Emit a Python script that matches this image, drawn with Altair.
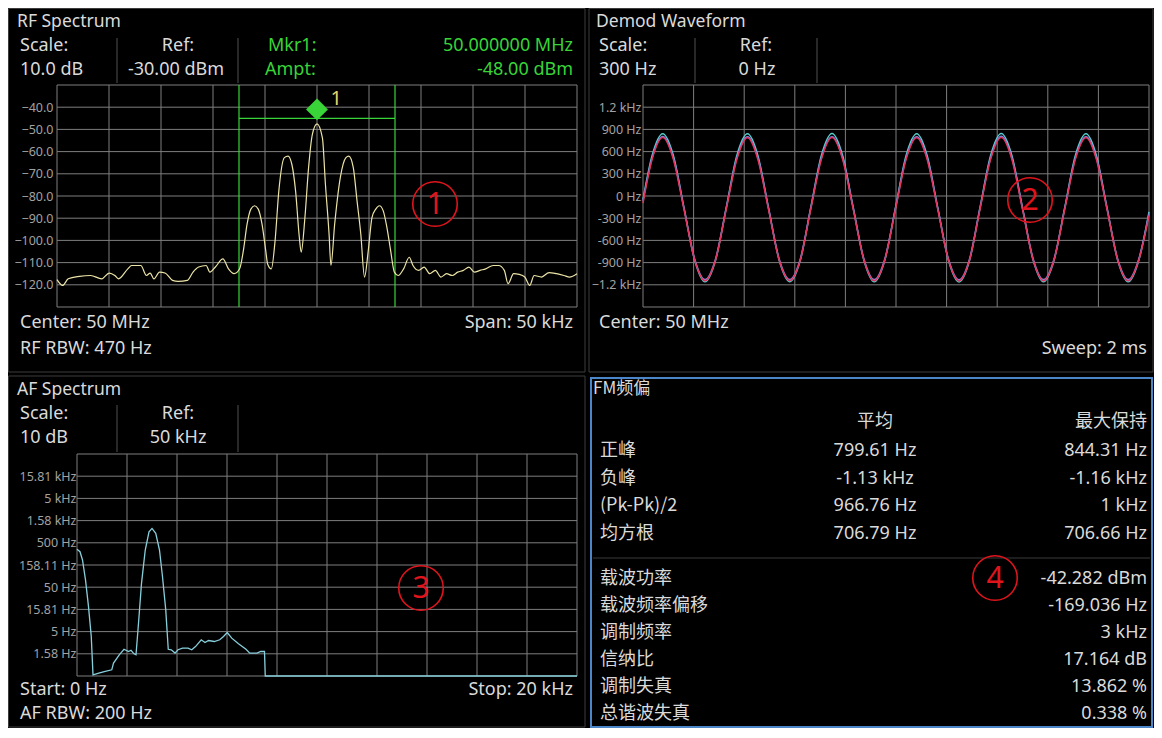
import altair as alt
import pandas as pd

# ---------------- data ----------------
RF_FREQ_KHZ = [-25.0, -24.46, -23.92, -22.85, -21.77, -20.70, -19.98, -19.44, -19.09, -18.19, -17.83, -16.94,
               -16.40, -16.04, -15.68, -15.14, -14.61, -13.89, -13.35, -12.46, -11.92, -11.38, -10.66, -10.30,
               -9.77, -9.05, -8.51, -7.97, -7.44, -7.08, -6.72, -6.36, -6.00, -5.65, -5.29, -4.93, -4.75, -4.39,
               -4.03, -3.67, -3.14, -2.78, -2.42, -2.06, -1.70, -1.52, -1.16, -0.81, -0.45, 0.0, 0.52, 0.81,
               1.16, 1.34, 1.70, 2.24, 2.78, 3.06, 3.49, 3.85, 4.21, 4.57, 4.93, 5.29, 5.65, 6.00, 6.36, 6.72,
               7.08, 7.44, 7.80, 8.33, 8.87, 9.23, 9.77, 10.30, 10.84, 11.38, 11.92, 12.46, 13.00, 13.53, 14.07,
               14.61, 15.14, 15.68, 16.22, 16.94, 17.47, 18.01, 18.37, 18.91, 19.44, 19.98, 20.45, 20.88, 21.59,
               22.31, 23.03, 23.75, 24.28, 25.0]
RF_LEVEL_DBM = [-117.7, -120.3, -117.3, -116.2, -115.8, -117.3, -114.7, -115.8, -117.3, -112.8, -111.3, -111.3,
                -115.8, -114.7, -117.3, -114.3, -114.7, -118.0, -118.5, -118.0, -114.3, -112.0, -111.3, -114.3,
                -112.0, -108.3, -112.8, -115.0, -112.8, -104.6, -92.6, -85.9, -84.4, -85.9, -92.6, -104.6, -110.6,
                -112.8, -100.1, -77.7, -62.7, -62.0, -65.7, -77.7, -98.6, -105.3, -89.6, -67.2, -52.3, -47.5, -53.8,
                -74.7, -97.1, -111.3, -92.6, -71.7, -62.7, -62.0, -67.2, -82.2, -97.1, -116.5, -104.6, -89.6, -85.9,
                -84.4, -86.6, -94.1, -104.6, -114.3, -115.8, -112.8, -107.6, -111.3, -113.5, -112.0, -115.0, -113.5,
                -116.5, -115.0, -115.8, -114.3, -113.5, -112.0, -114.3, -113.5, -112.8, -111.3, -111.3, -113.5,
                -119.5, -115.0, -115.3, -116.5, -120.3, -115.8, -116.5, -114.5, -115.0, -115.8, -116.5, -115.0]
RF_X_TICKS = [-25, -20, -15, -10, -5, 0, 5, 10, 15, 20, 25]
RF_Y_TICKS = [-130, -120, -110, -100, -90, -80, -70, -60, -50, -40, -30]
RF_Y_LABELS = [-120, -110, -100, -90, -80, -70, -60, -50, -40]
MKR_BAND_KHZ = [-7.5, 7.5]
MKR_LINE_DBM = -45.0
MKR_FREQ_KHZ = [0.0]
MKR_LEVEL_DBM = [-41.0]
MKR_LABEL_POS = [1.3, -36.5]

DEMOD_T_MS = [0.0, 0.036, 0.078, 0.120, 0.162, 0.204, 0.245, 0.287, 0.329, 0.371, 0.413, 0.454, 0.496,
              0.538, 0.580, 0.622, 0.663, 0.705, 0.747, 0.789, 0.831, 0.873, 0.914, 0.956, 0.998, 1.040,
              1.082, 1.123, 1.165, 1.207, 1.249, 1.291, 1.332, 1.374, 1.416, 1.458, 1.500, 1.542, 1.583,
              1.625, 1.667, 1.709, 1.751, 1.792, 1.834, 1.876, 1.918, 1.960, 2.0]
DEMOD_MAX_HZ = [-50, 547, 842, 547, -158, -866, -1160, -866, -158, 547, 840, 547, -158, -866, -1158, -866,
                -158, 547, 844, 547, -158, -866, -1160, -866, -158, 547, 840, 547, -158, -866, -1162, -866,
                -158, 547, 844, 547, -158, -866, -1160, -866, -158, 547, 840, 547, -158, -866, -1160, -866, -215]
DEMOD_AVG_HZ = [-70, 517, 805, 517, -165, -847, -1130, -847, -165, 517, 800, 517, -165, -847, -1128, -847,
                -165, 517, 802, 517, -165, -847, -1130, -847, -165, 517, 800, 517, -165, -847, -1132, -847,
                -165, 517, 806, 517, -165, -847, -1130, -847, -165, 517, 800, 517, -165, -847, -1130, -847, -240]
DEMOD_MIN_HZ = [-95, 495, 790, 495, -180, -862, -1146, -862, -180, 495, 788, 495, -180, -862, -1144, -862,
                -180, 495, 790, 495, -180, -862, -1146, -862, -180, 495, 786, 495, -180, -862, -1148, -862,
                -180, 495, 790, 495, -180, -862, -1146, -862, -180, 495, 788, 495, -180, -862, -1146, -862, -265]
DEMOD_X_TICKS = [0.0, 0.2, 0.4, 0.6, 0.8, 1.0, 1.2, 1.4, 1.6, 1.8, 2.0]
DEMOD_Y_TICKS = [-1500, -1200, -900, -600, -300, 0, 300, 600, 900, 1200, 1500]
DEMOD_Y_LABELS = [-1200, -900, -600, -300, 0, 300, 600, 900, 1200]

AF_FREQ_KHZ = [0.0, 0.12, 0.22, 0.34, 0.46, 0.57, 0.64, 0.87, 1.09, 1.39, 1.46, 1.69, 1.88, 2.06, 2.16, 2.28,
               2.36, 2.46, 2.58, 2.73, 2.88, 3.00, 3.15, 3.30, 3.42, 3.55, 3.65, 3.77, 3.92, 4.04, 4.22, 4.44,
               4.59, 4.74, 4.97, 5.12, 5.26, 5.49, 5.71, 5.86, 6.01, 6.19, 6.46, 6.76, 6.91, 7.20, 7.35, 7.50,
               7.53, 20.0]
AF_LEVEL_HZ = [356, 315, 205, 73, 18.3, 3.9, 0.53, 0.58, 0.63, 0.69, 0.98, 1.5, 2.0, 1.78, 1.9, 1.58,
               1.5, 7.7, 61, 344, 887, 1055, 815, 344, 86, 15.4, 2.0, 1.95, 1.64, 1.95, 2.12, 2.12,
               1.95, 2.3, 3.27, 2.84, 3.15, 2.99, 3.27, 3.87, 4.76, 3.56, 2.65, 2.0, 1.64, 1.64, 1.78, 1.78,
               0.5, 0.5]
AF_X_TICKS = [0, 2, 4, 6, 8, 10, 12, 14, 16, 18, 20]
AF_Y_TICKS = [0.5, 1.5811, 5, 15.811, 50, 158.11, 500, 1581.1, 5000, 15811, 50000]
AF_Y_LABELS = [1.5811, 5, 15.811, 50, 158.11, 500, 1581.1, 5000, 15811]

FM_ROW_LABELS = ["正峰", "负峰", "(Pk-Pk)/2", "均方根"]
FM_AVG = ["799.61 Hz", "-1.13 kHz", "966.76 Hz", "706.79 Hz"]
FM_MAXHOLD = ["844.31 Hz", "-1.16 kHz", "1 kHz", "706.66 Hz"]
FM_RESULT_LABELS = ["载波功率", "载波频率偏移", "调制频率", "信纳比", "调制失真", "总谐波失真"]
FM_RESULT_VALUES = ["-42.282 dBm", "-169.036 Hz", "3 kHz", "17.164 dB", "13.862 %", "0.338 %"]

# ---------------- style ----------------
W, H = 1146, 720
FONT = "Noto Sans"
CJK = "Noto Sans CJK SC"
BORDER = "#3c3c3c"
GRID = "#7e7e7e"
TXT = "#dadada"
AXT = "#a2a2a2"
GREEN = "#38d438"
YELLOW = "#ece4a6"
AF_COL = "#88cfdc"
RED = "#e0141c"
SEP = "#505050"
FS = 18        # header / footer / table text
TS = 17.5      # panel titles
AS = 12.5      # axis labels
ONE = pd.DataFrame({"k": [0]})


def P(v):
    return v - 8


def label(text, x, y, size=FS, color=TXT, align="left", font=FONT):
    return alt.Chart(pd.DataFrame({"t": [text]})).mark_text(
        align=align, baseline="middle", fontSize=size, font=font, color=color
    ).encode(text="t:N", x=alt.value(P(x)), y=alt.value(P(y)))


def box(x0, y0, x1, y1, color, width=1):
    return alt.Chart(ONE).mark_rect(fillOpacity=0, stroke=color, strokeWidth=width).encode(
        x=alt.value(P(x0)), x2=alt.value(P(x1)), y=alt.value(P(y0)), y2=alt.value(P(y1)))


def vline(x, y0, y1, color=SEP):
    return alt.Chart(ONE).mark_rule(color=color, strokeWidth=1).encode(
        x=alt.value(P(x)), y=alt.value(P(y0)), y2=alt.value(P(y1)))


def hline(x0, x1, y, color=SEP):
    return alt.Chart(ONE).mark_rule(color=color, strokeWidth=1).encode(
        x=alt.value(P(x0)), x2=alt.value(P(x1)), y=alt.value(P(y)))


def lin(domain, r0, r1, typ="linear"):
    return alt.Scale(type=typ, domain=domain, range=[P(r0), P(r1)], nice=False, zero=False)


def grid(xt, yt, xs, ys):
    rows = [dict(x=v, x2=v, y=yt[0], y2=yt[-1]) for v in xt] + \
           [dict(x=xt[0], x2=xt[-1], y=v, y2=v) for v in yt]
    return alt.Chart(pd.DataFrame(rows)).mark_rule(color=GRID, strokeWidth=1).encode(
        x=alt.X("x:Q", scale=xs, axis=None), x2="x2:Q",
        y=alt.Y("y:Q", scale=ys, axis=None), y2="y2:Q")


def yaxis(left_px, values, pad, fmt=None, expr=None):
    kw = dict(orient="left", offset=-P(left_px), values=values, title=None, domain=False, ticks=False,
              grid=False, labelColor=AXT, labelFont=FONT, labelFontSize=AS, labelPadding=pad,
              labelOverlap=False)
    if fmt:
        kw["format"] = fmt
    if expr:
        kw["labelExpr"] = expr
    return alt.Axis(**kw)


def ring(x, y, digit):
    c = alt.Chart(ONE).mark_point(shape="circle", size=1980, filled=False, stroke=RED, strokeWidth=1.6,
                                  opacity=1).encode(x=alt.value(P(x)), y=alt.value(P(y)))
    t = label(digit, x, y + 1, size=30, color=RED, align="center")
    return [c, t]


layers = []

# ---------------- panel frames ----------------
layers += [box(8.5, 8.5, 585, 372, BORDER), box(589, 8.5, 1153, 372, BORDER),
           box(8.5, 376, 585, 727, BORDER), box(591, 378, 1152, 727, "#4a86c8", 2)]

# ---------------- RF spectrum ----------------
rf_xs = lin([-25, 25], 57, 577)
rf_ys = lin([-130, -30], 307, 85)
layers.append(grid(RF_X_TICKS, RF_Y_TICKS, rf_xs, rf_ys))
rf_df = pd.DataFrame({"f": RF_FREQ_KHZ, "l": RF_LEVEL_DBM})
band_df = pd.DataFrame({"x": MKR_BAND_KHZ, "y": [RF_Y_TICKS[0]] * 2, "y2": [RF_Y_TICKS[-1]] * 2})
layers.append(alt.Chart(band_df).mark_rule(color=GREEN, strokeWidth=1.2).encode(
    x=alt.X("x:Q", scale=rf_xs, axis=None), y=alt.Y("y:Q", scale=rf_ys, axis=None), y2="y2:Q"))
layers.append(alt.Chart(pd.DataFrame({"x": [MKR_BAND_KHZ[0]], "x2": [MKR_BAND_KHZ[1]], "y": [MKR_LINE_DBM]}))
              .mark_rule(color=GREEN, strokeWidth=1.2).encode(
    x=alt.X("x:Q", scale=rf_xs, axis=None), x2="x2:Q", y=alt.Y("y:Q", scale=rf_ys, axis=None)))
layers.append(alt.Chart(rf_df).mark_line(color=YELLOW, strokeWidth=1.2, interpolate="monotone").encode(
    x=alt.X("f:Q", scale=rf_xs, axis=None),
    y=alt.Y("l:Q", scale=rf_ys, axis=yaxis(57, RF_Y_LABELS, 4, fmt=".1f"))))
layers.append(alt.Chart(pd.DataFrame({"f": MKR_FREQ_KHZ, "l": MKR_LEVEL_DBM})).mark_point(
    shape="diamond", size=480, filled=True, color=GREEN, opacity=1).encode(
    x=alt.X("f:Q", scale=rf_xs, axis=None), y=alt.Y("l:Q", scale=rf_ys, axis=None)))
layers.append(alt.Chart(pd.DataFrame({"f": [MKR_LABEL_POS[0]], "l": [MKR_LABEL_POS[1]], "t": ["1"]})).mark_text(
    fontSize=20, font=FONT, color="#e6d36a", align="left", baseline="middle").encode(
    x=alt.X("f:Q", scale=rf_xs, axis=None), y=alt.Y("l:Q", scale=rf_ys, axis=None), text="t:N"))

layers += [label("RF Spectrum", 17, 22, TS),
           label("Scale:", 20, 46), label("10.0 dB", 20, 70),
           label("Ref:", 178, 46, align="center"), label("-30.00 dBm", 176, 70, align="center"),
           vline(117, 38, 83), vline(238, 38, 83),
           label("Mkr1:", 268, 46, color=GREEN), label("Ampt:", 265, 70, color=GREEN),
           label("50.000000 MHz", 573, 46, color=GREEN, align="right"),
           label("-48.00 dBm", 573, 70, color=GREEN, align="right"),
           label("Center: 50 MHz", 20, 323), label("RF RBW: 470 Hz", 20, 349),
           label("Span: 50 kHz", 573, 323, align="right")]

# ---------------- Demod waveform ----------------
dm_xs = lin([0, 2], 643, 1149)
dm_ys = lin([-1500, 1500], 307, 85)
layers.append(grid(DEMOD_X_TICKS, DEMOD_Y_TICKS, dm_xs, dm_ys))
dm_df = pd.DataFrame({"t": DEMOD_T_MS, "mx": DEMOD_MAX_HZ, "av": DEMOD_AVG_HZ, "mn": DEMOD_MIN_HZ})
dm_expr = "abs(datum.value) >= 1000 ? format(datum.value / 1000, '.1f') + ' kHz' : datum.value + ' Hz'"
for col, colr, ax in [("mx", "#56cfd2", True), ("av", "#8a80d8", False), ("mn", "#e2335f", False)]:
    layers.append(alt.Chart(dm_df).mark_line(color=colr, strokeWidth=1.5, interpolate="monotone").encode(
        x=alt.X("t:Q", scale=dm_xs, axis=None),
        y=alt.Y(f"{col}:Q", scale=dm_ys,
                axis=yaxis(643, DEMOD_Y_LABELS, 2, expr=dm_expr) if ax else None)))
layers += [label("Demod Waveform", 596, 22, TS),
           label("Scale:", 599, 46), label("300 Hz", 599, 70),
           label("Ref:", 756, 46, align="center"), label("0 Hz", 757, 70, align="center"),
           vline(695, 38, 83), vline(817, 38, 83),
           label("Center: 50 MHz", 599, 323), label("Sweep: 2 ms", 1147, 349, align="right")]

# ---------------- AF spectrum ----------------
af_xs = lin([0, 20], 77, 577)
af_ys = lin([0.5, 50000], 676, 454, typ="log")
layers.append(grid(AF_X_TICKS, AF_Y_TICKS, af_xs, af_ys))
af_df = pd.DataFrame({"f": AF_FREQ_KHZ, "v": AF_LEVEL_HZ})
af_expr = ("datum.value >= 1000 ? format(datum.value / 1000, '.2~f') + ' kHz' : "
           "format(datum.value, '.2~f') + ' Hz'")
layers.append(alt.Chart(af_df).mark_line(color=AF_COL, strokeWidth=1.3).encode(
    x=alt.X("f:Q", scale=af_xs, axis=None),
    y=alt.Y("v:Q", scale=af_ys, axis=yaxis(77, AF_Y_LABELS, 1, expr=af_expr))))
layers += [label("AF Spectrum", 17, 390, TS),
           label("Scale:", 20, 414), label("10 dB", 20, 438),
           label("Ref:", 178, 414, align="center"), label("50 kHz", 178, 438, align="center"),
           vline(117, 405, 452), vline(238, 405, 452),
           label("Start: 0 Hz", 20, 690), label("AF RBW: 200 Hz", 20, 714),
           label("Stop: 20 kHz", 573, 690, align="right")]

# ---------------- FM deviation table ----------------
layers += [label("FM频偏", 593, 389, 17, font=CJK),
           label("平均", 875, 422, FS, font=CJK, align="center"),
           label("最大保持", 1147, 422, FS, font=CJK, align="right"),
           hline(593, 1150, 558, "#3a3a3a")]
top_df = pd.DataFrame({"r": list(range(len(FM_ROW_LABELS))), "a": FM_ROW_LABELS, "b": FM_AVG, "c": FM_MAXHOLD})
top_y = alt.Y("r:Q", scale=lin([0, 3], 451, 534), axis=None)
for col, xp, al, fnt in [("a", 600, "left", CJK), ("b", 875, "center", FONT), ("c", 1147, "right", FONT)]:
    layers.append(alt.Chart(top_df).mark_text(align=al, baseline="middle", fontSize=FS, font=fnt, color=TXT)
                  .encode(text=f"{col}:N", x=alt.value(P(xp)), y=top_y))
low_df = pd.DataFrame({"r": list(range(len(FM_RESULT_LABELS))), "a": FM_RESULT_LABELS, "c": FM_RESULT_VALUES})
low_y = alt.Y("r:Q", scale=lin([0, 5], 579, 714), axis=None)
for col, xp, al, fnt in [("a", 600, "left", CJK), ("c", 1147, "right", FONT)]:
    layers.append(alt.Chart(low_df).mark_text(align=al, baseline="middle", fontSize=FS, font=fnt, color=TXT)
                  .encode(text=f"{col}:N", x=alt.value(P(xp)), y=low_y))

# ---------------- red annotation rings ----------------
layers += ring(435, 204, "1") + ring(1030, 200, "2") + ring(421, 588, "3") + ring(995, 578, "4")

chart = alt.layer(*layers).resolve_scale(x="independent", y="independent").properties(
    width=W, height=H, padding=0, autosize=alt.AutoSizeParams(type="none"), background="#000000"
).configure_view(stroke=None)

chart.save("out.html", embed_options={"renderer": "svg", "actions": False})
